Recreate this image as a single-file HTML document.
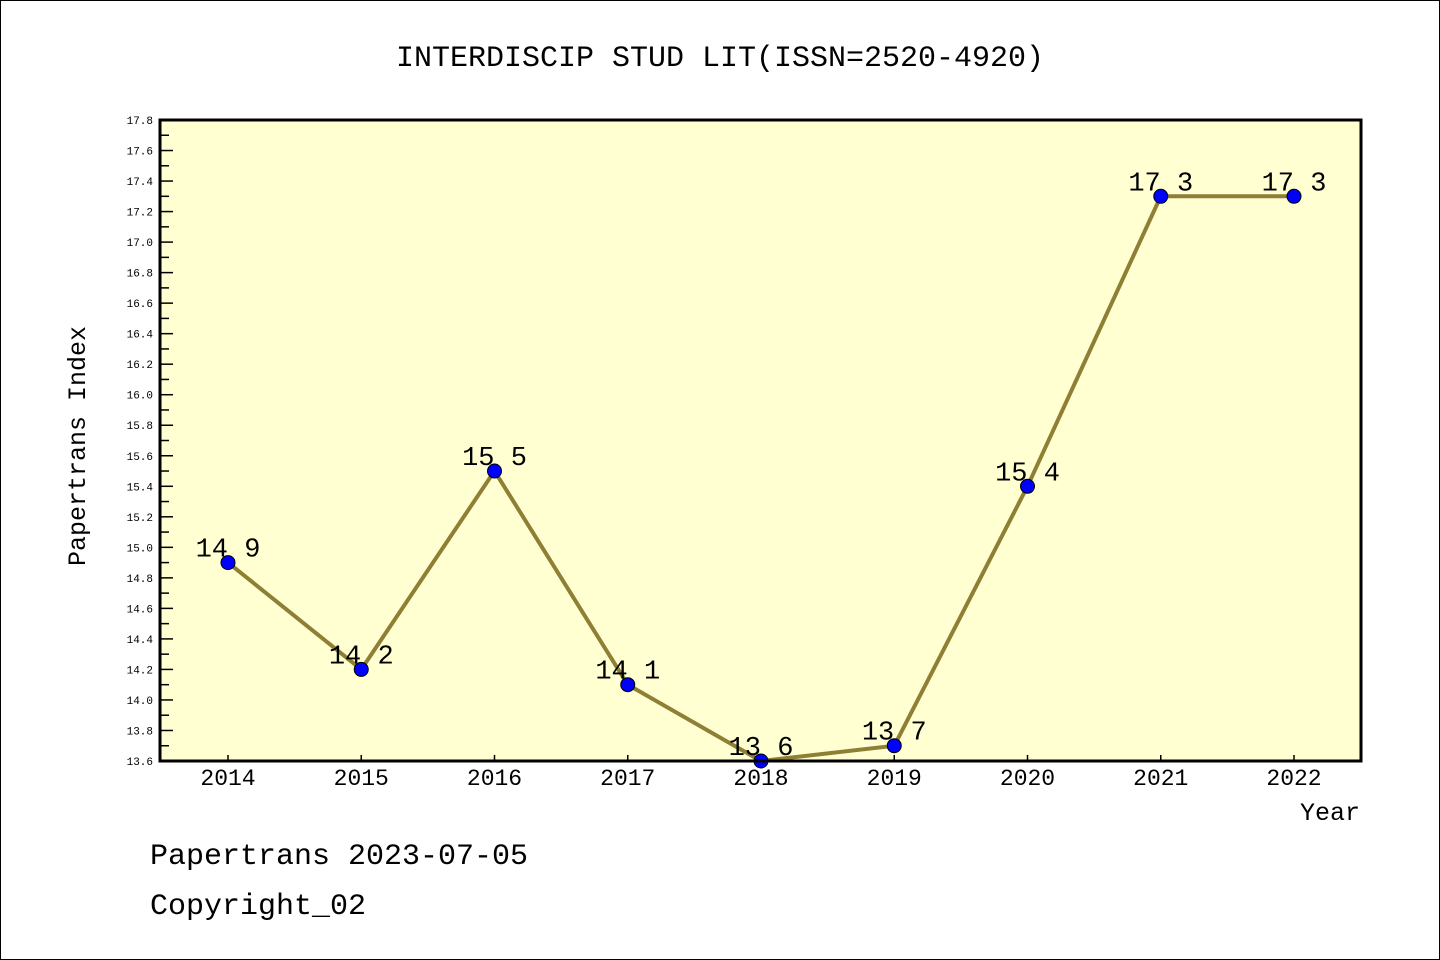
<!DOCTYPE html>
<html><head><meta charset="utf-8"><style>
body{margin:0;background:#fff;}
svg{display:block;}
text{font-family:"Liberation Mono","DejaVu Sans Mono",monospace;}
</style></head><body>
<svg id="chart" width="1440" height="960">
<rect x="0.5" y="0.5" width="1439" height="959" fill="#fff" stroke="#000"/>
<text x="720" y="66" text-anchor="middle" font-size="30">INTERDISCIP STUD LIT(ISSN=2520-4920)</text>
<rect x="160" y="120" width="1201" height="641" fill="#ffffd2"/>
<g id="axes"></g>
<g id="series"></g>
<rect x="160" y="120" width="1201" height="641" fill="none" stroke="#000" stroke-width="3"/>
<text x="85" y="446" transform="rotate(-90 85 446)" text-anchor="middle" font-size="25">Papertrans Index</text>
<text x="1360" y="820" text-anchor="end" font-size="25">Year</text>
<text x="150" y="864" font-size="30">Papertrans 2023-07-05</text>
<text x="150" y="914" font-size="30">Copyright_02</text>
</svg>
<script>
const years=[2014,2015,2016,2017,2018,2019,2020,2021,2022];
const values=[14.9,14.2,15.5,14.1,13.6,13.7,15.4,17.3,17.3];
const labels=["14.9","14.2","15.5","14.1","13.6","13.7","15.4","17.3","17.3"];
const yTicks=[13.6,13.8,14.0,14.2,14.4,14.6,14.8,15.0,15.2,15.4,15.6,15.8,16.0,16.2,16.4,16.6,16.8,17.0,17.2,17.4,17.6,17.8];
const NS="http://www.w3.org/2000/svg";
const yMin=13.6,yMax=17.8,plotTop=120,plotBot=761;
function yS(v){return plotBot-(v-yMin)/(yMax-yMin)*(plotBot-plotTop);}
function xS(yr){return 228+(yr-years[0])*(1294-228)/(years[years.length-1]-years[0]);}
function mk(t,a){const e=document.createElementNS(NS,t);for(const k in a)e.setAttribute(k,a[k]);return e;}
const axesG=document.getElementById('axes'),serG=document.getElementById('series');
yTicks.forEach((v,i)=>{
  const l=mk('line',{x1:160,x2:173,y1:yS(v),y2:yS(v),stroke:'#000','stroke-width':1.5});
  
  
  axesG.appendChild(l);
  if(i<yTicks.length-1){
    const m=mk('line',{x1:160,x2:169,y1:yS(v+0.1),y2:yS(v+0.1),stroke:'#000','stroke-width':1.5});
    
    
    axesG.appendChild(m);
  }
  const t=mk('text',{x:153,y:yS(v)+4,'text-anchor':'end','font-size':11,'font-family':'Liberation Sans, sans-serif'});
  t.textContent=v.toFixed(1);
  
  
  axesG.appendChild(t);
});
years.forEach(yr=>{
  const l=mk('line',{x1:xS(yr),x2:xS(yr),y1:plotBot,y2:plotBot-6,stroke:'#000','stroke-width':1.5});
  
  
  axesG.appendChild(l);
  const t=mk('text',{x:xS(yr),y:785,'text-anchor':'middle','font-size':23,'font-family':'Liberation Sans, sans-serif'});
  t.textContent=yr;
  
  
  axesG.appendChild(t);
});
const pts=years.map((yr,i)=>xS(yr)+','+yS(values[i])).join(' ');
const pl=mk('polyline',{points:pts,fill:'none',stroke:'#8f7f35','stroke-width':4});


serG.appendChild(pl);
years.forEach((yr,i)=>{
  const c=mk('circle',{cx:xS(yr),cy:yS(values[i]),r:7,fill:'#0000ff',stroke:'#000','stroke-width':1});
  
  
  serG.appendChild(c);
  const t=mk('text',{x:xS(yr),y:yS(values[i])-6,'text-anchor':'middle','font-size':27,'font-family':'Liberation Sans, sans-serif'});
  t.textContent=labels[i].replace('.',' ');
  
  
  serG.appendChild(t);
});
</script>
</body></html>
